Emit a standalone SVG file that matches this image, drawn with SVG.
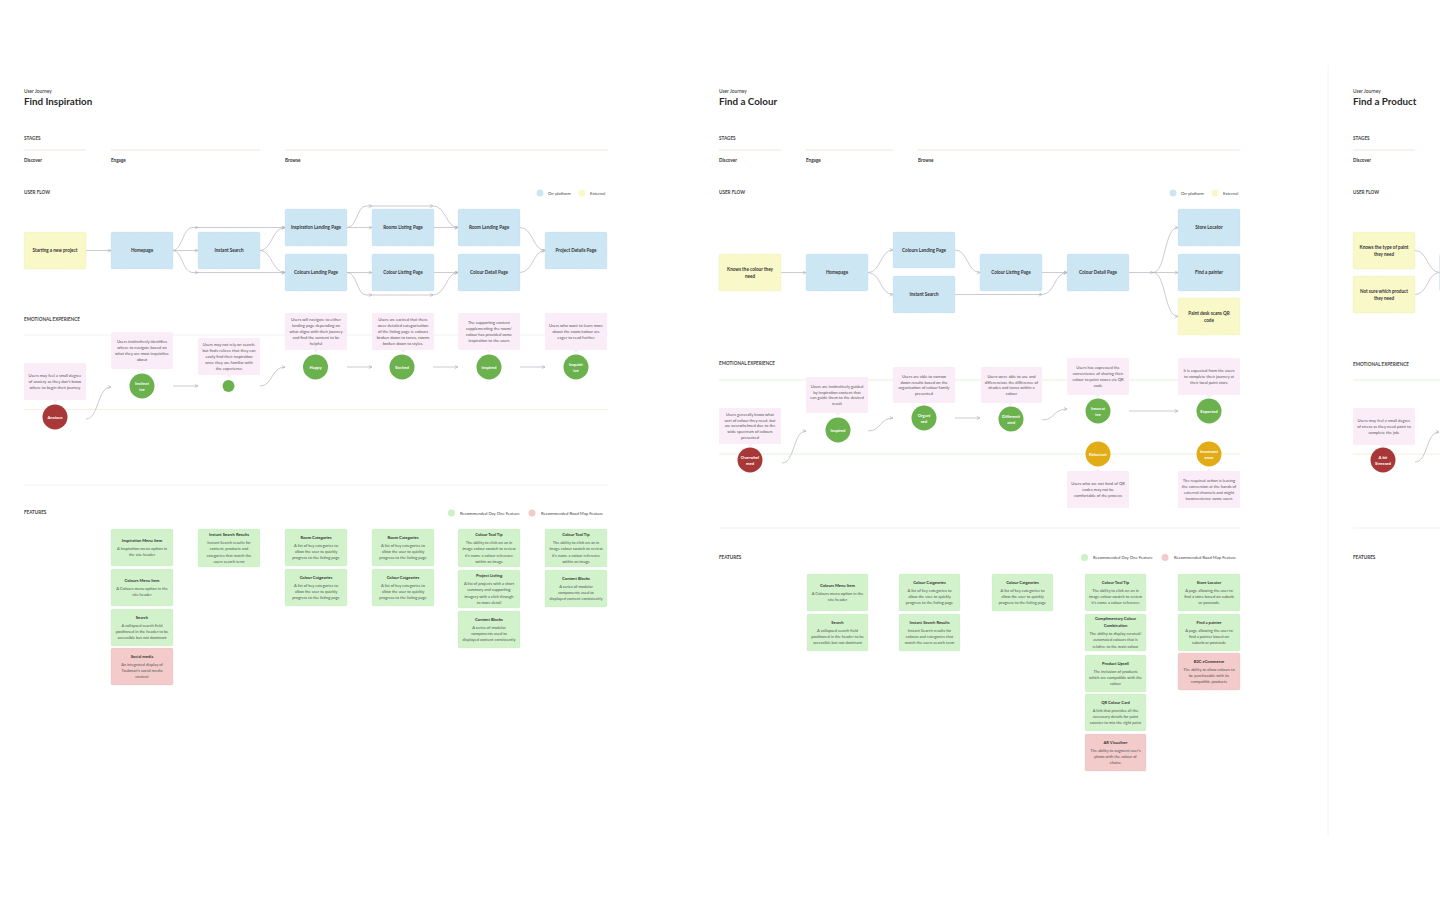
<svg xmlns="http://www.w3.org/2000/svg" width="1440" height="900" viewBox="0 0 1440 900">
<defs>
<style>
text{font-family:Lato,"Liberation Sans",sans-serif;fill:#2b2b2b}
.uj{font-size:4.8px;font-weight:600;fill:#444}
.ttl{font-size:9.8px;font-weight:700;fill:#2a2a2a}
.sec{font-size:4.6px;font-weight:700;fill:#444}
.stg{font-size:4.6px;font-weight:700;fill:#333}
.sl{stroke:#f7ece8;stroke-width:1.6}
.gl{stroke:#eeeeee;stroke-width:0.8}
.yl{stroke:#f3f1d9;stroke-width:0.9}
.grl{stroke:#e2f1d8;stroke-width:0.9}
.nb{fill:#cde6f4;stroke:#b7d6ea;stroke-width:0.4;stroke-dasharray:1 0.8}
.ny{fill:#f8f8c8;stroke:#e5e5a8;stroke-width:0.4;stroke-dasharray:1 0.8}
.nl{font-size:4.6px;font-weight:700;fill:#333;text-anchor:middle}
.co{fill:#fbedf8}
.ct{font-size:4.1px;fill:#555;text-anchor:middle}
.cg{fill:#6bb24f}
.cr{fill:#a83838}
.cy{fill:#e2ac17}
.cl{font-size:4.2px;font-weight:700;fill:#fff;text-anchor:middle}
.fg{fill:#d1f2cb;stroke:#bfe6b7;stroke-width:0.4;stroke-dasharray:1 0.8}
.fp{fill:#f3cbcb;stroke:#e6b6b6;stroke-width:0.4;stroke-dasharray:1 0.8}
.ft{font-size:4.1px;font-weight:700;fill:#333;text-anchor:middle}
.fb{font-size:4px;fill:#555;text-anchor:middle}
.lg{font-size:4.2px;fill:#444}
.cn{fill:none;stroke:#bab2be;stroke-width:0.7}
</style>
<marker id="ah" viewBox="0 0 6 6" refX="5.4" refY="3" markerWidth="4" markerHeight="4" markerUnits="userSpaceOnUse" orient="auto"><path d="M0.6,0.6 L5.4,3 L0.6,5.4" fill="none" stroke="#b0a8b5" stroke-width="0.9"/></marker>
</defs>
<rect width="1440" height="900" fill="#ffffff"/>
<line x1="1328" y1="65" x2="1328" y2="836" stroke="#f1f1f1" stroke-width="0.8"/>

<!-- ============ PANEL 1 : Find Inspiration ============ -->
<g id="panel-inspiration">
<text class="uj" x="24" y="92.5">User Journey</text>
<text class="ttl" x="24" y="105.3">Find Inspiration</text>
<text class="sec" x="24" y="139.8">STAGES</text>
<line class="sl" x1="24" y1="150" x2="86" y2="150"/>
<line class="sl" x1="111" y1="150" x2="260" y2="150"/>
<line class="sl" x1="285" y1="150" x2="608" y2="150"/>
<text class="stg" x="24" y="161.8">Discover</text>
<text class="stg" x="111" y="161.8">Engage</text>
<text class="stg" x="285" y="161.8">Browse</text>
<text class="sec" x="24" y="193.8">USER FLOW</text>
<circle cx="540" cy="193" r="3.5" fill="#cde6f4"/>
<text class="lg" x="548" y="194.5">On-platform</text>
<circle cx="582" cy="193" r="3.5" fill="#f8f8c8"/>
<text class="lg" x="590" y="194.5">External</text>
<text class="sec" x="24" y="320.8">EMOTIONAL EXPERIENCE</text>
<line class="gl" x1="24" y1="335" x2="608" y2="335"/>
<line class="yl" x1="24" y1="409.5" x2="608" y2="409.5"/>
<line class="gl" x1="24" y1="485" x2="608" y2="485"/>
<text class="sec" x="24" y="513.8">FEATURES</text>
<circle cx="451.5" cy="513" r="3.5" fill="#cdf0c5"/>
<text class="lg" x="460" y="514.5">Recommended Day One Feature</text>
<circle cx="532" cy="513" r="3.5" fill="#f3caca"/>
<text class="lg" x="541" y="514.5">Recommended Road Map Feature</text>
</g>

<g id="p1-connectors">
<path class="cn" marker-end="url(#ah)" d="M86,250.5 H111"/>
<path class="cn" marker-end="url(#ah)" d="M173,250.5 H198"/>
<path class="cn" marker-end="url(#ah)" d="M173,250.5 C182,250.5 183,227.5 192,227.5 L198,227.5"/>
<path class="cn" marker-end="url(#ah)" d="M198,227.5 H285"/>
<path class="cn" marker-end="url(#ah)" d="M173,250.5 C182,250.5 183,272.5 192,272.5 L198,272.5"/>
<path class="cn" marker-end="url(#ah)" d="M198,272.5 H285"/>
<path class="cn" marker-end="url(#ah)" d="M260,250.5 C272,250.5 272,227.5 285,227.5"/>
<path class="cn" marker-end="url(#ah)" d="M260,250.5 C272,250.5 272,272.5 285,272.5"/>
<path class="cn" marker-end="url(#ah)" d="M347,227.5 H372"/>
<path class="cn" marker-end="url(#ah)" d="M347,227.5 C357,227.5 357,206 366,206 L372,206"/>
<path class="cn" marker-end="url(#ah)" d="M372,206 H433"/>
<path class="cn" marker-end="url(#ah)" d="M433,206 C446,206 446,227.5 458,227.5"/>
<path class="cn" marker-end="url(#ah)" d="M433,227.5 H458"/>
<path class="cn" marker-end="url(#ah)" d="M520,227.5 C533,227.5 533,250.5 545,250.5"/>
<path class="cn" marker-end="url(#ah)" d="M347,272.5 H372"/>
<path class="cn" marker-end="url(#ah)" d="M347,272.5 C357,272.5 357,295 366,295 L372,295"/>
<path class="cn" marker-end="url(#ah)" d="M372,295 H433"/>
<path class="cn" marker-end="url(#ah)" d="M433,295 C446,295 446,272.5 458,272.5"/>
<path class="cn" marker-end="url(#ah)" d="M433,272.5 H458"/>
<path class="cn" marker-end="url(#ah)" d="M520,272.5 C533,272.5 533,250.5 545,250.5"/>
<path class="cn" marker-end="url(#ah)" d="M86,419 C99,419 97,387 111,387"/>
<path class="cn" marker-end="url(#ah)" d="M173,386 H198"/>
<path class="cn" marker-end="url(#ah)" d="M260,386 C273,386 271,367 285,367"/>
<path class="cn" marker-end="url(#ah)" d="M347,367 H372"/>
<path class="cn" marker-end="url(#ah)" d="M433,367 H458"/>
<path class="cn" marker-end="url(#ah)" d="M520,367 H545"/>
</g>

<g id="n-start"><rect class="ny" x="24" y="232" width="62" height="37" rx="1.5"/><text class="nl" x="55" y="252.1">Starting a new project</text></g>
<g id="n-home1"><rect class="nb" x="111" y="232" width="62" height="37" rx="1.5"/><text class="nl" x="142" y="252.1">Homepage</text></g>
<g id="n-search1"><rect class="nb" x="198" y="232" width="62" height="37" rx="1.5"/><text class="nl" x="229" y="252.1">Instant Search</text></g>
<g id="n-insp-landing"><rect class="nb" x="285" y="209" width="62" height="37" rx="1.5"/><text class="nl" x="316" y="229.1">Inspiration Landing Page</text></g>
<g id="n-col-landing1"><rect class="nb" x="285" y="254" width="62" height="37" rx="1.5"/><text class="nl" x="316" y="274.1">Colours Landing Page</text></g>
<g id="n-rooms-listing"><rect class="nb" x="372" y="209" width="62" height="37" rx="1.5"/><text class="nl" x="403" y="229.1">Rooms Listing Page</text></g>
<g id="n-col-listing1"><rect class="nb" x="372" y="254" width="62" height="37" rx="1.5"/><text class="nl" x="403" y="274.1">Colour Listing Page</text></g>
<g id="n-room-landing"><rect class="nb" x="458" y="209" width="62" height="37" rx="1.5"/><text class="nl" x="489" y="229.1">Room Landing Page</text></g>
<g id="n-col-detail1"><rect class="nb" x="458" y="254" width="62" height="37" rx="1.5"/><text class="nl" x="489" y="274.1">Colour Detail Page</text></g>
<g id="n-project"><rect class="nb" x="545" y="232" width="62" height="37" rx="1.5"/><text class="nl" x="576" y="252.1">Project Details Page</text></g>

<g id="e1-anxious"><rect class="co" x="24" y="363" width="62" height="37" rx="1.5"/><path class="co" d="M52.5,400 L55,402.8 L57.5,400Z"/>
<text class="ct" y="377"><tspan x="55">Users may feel a small degree</tspan><tspan x="55" dy="5.8">of anxiety as they don't know</tspan><tspan x="55" dy="5.8">where to begin their journey</tspan></text>
<circle class="cr" cx="55" cy="417" r="12.5"/><text class="cl" x="55" y="418.5">Anxious</text></g>
<g id="e1-instinctive"><rect class="co" x="111" y="332" width="62" height="37" rx="1.5"/><path class="co" d="M139.5,369 L142,371.8 L144.5,369Z"/>
<text class="ct" y="343.2"><tspan x="142">Users instinctively identifies</tspan><tspan x="142" dy="5.8">where to navigate based on</tspan><tspan x="142" dy="5.8">what they are most inquisitive</tspan><tspan x="142" dy="5.8">about</tspan></text>
<circle class="cg" cx="142" cy="386" r="12.5"/><text class="cl" y="384.5"><tspan x="142">Instinct</tspan><tspan x="142" dy="6">ive</tspan></text></g>
<g id="e1-relief"><rect class="co" x="198" y="338" width="62" height="37" rx="1.5"/><path class="co" d="M226.5,375 L229,377.8 L231.5,375Z"/>
<text class="ct" y="346.3"><tspan x="229">Users may not rely on search,</tspan><tspan x="229" dy="5.8">but finds relieve that they can</tspan><tspan x="229" dy="5.8">easily find their inspiration</tspan><tspan x="229" dy="5.8">once they are familiar with</tspan><tspan x="229" dy="5.8">the experience</tspan></text>
<circle class="cg" cx="228.5" cy="386" r="6"/></g>
<g id="e1-happy"><rect class="co" x="285" y="313" width="62" height="37" rx="1.5"/><path class="co" d="M313.5,350 L316,352.8 L318.5,350Z"/>
<text class="ct" y="321.3"><tspan x="316">Users will navigate to either</tspan><tspan x="316" dy="5.8">landing page depending on</tspan><tspan x="316" dy="5.8">what aligns with their journey</tspan><tspan x="316" dy="5.8">and find the content to be</tspan><tspan x="316" dy="5.8">helpful</tspan></text>
<circle class="cg" cx="315.5" cy="367" r="12.5"/><text class="cl" x="315.5" y="368.5">Happy</text></g>
<g id="e1-excited"><rect class="co" x="372" y="313" width="62" height="37" rx="1.5"/><path class="co" d="M400.5,350 L403,352.8 L405.5,350Z"/>
<text class="ct" y="321.3"><tspan x="403">Users are excited that there</tspan><tspan x="403" dy="5.8">were detailed categorisation</tspan><tspan x="403" dy="5.8">of the listing page ie colours</tspan><tspan x="403" dy="5.8">broken down to tones, rooms</tspan><tspan x="403" dy="5.8">broken down to styles.</tspan></text>
<circle class="cg" cx="402" cy="367" r="12.5"/><text class="cl" x="402" y="368.5">Excited</text></g>
<g id="e1-inspired"><rect class="co" x="458" y="313" width="62" height="37" rx="1.5"/><path class="co" d="M486.5,350 L489,352.8 L491.5,350Z"/>
<text class="ct" y="324.2"><tspan x="489">The supporting content</tspan><tspan x="489" dy="5.8">supplementing the room/</tspan><tspan x="489" dy="5.8">colour has provided some</tspan><tspan x="489" dy="5.8">inspiration to the users</tspan></text>
<circle class="cg" cx="489" cy="367" r="12.5"/><text class="cl" x="489" y="368.5">Inspired</text></g>
<g id="e1-inquisitive"><rect class="co" x="545" y="313" width="62" height="37" rx="1.5"/><path class="co" d="M573.5,350 L576,352.8 L578.5,350Z"/>
<text class="ct" y="327"><tspan x="576">Users who want to learn more</tspan><tspan x="576" dy="5.8">about the room/colour are</tspan><tspan x="576" dy="5.8">eager to read further</tspan></text>
<circle class="cg" cx="576" cy="367" r="12.5"/><text class="cl" y="365.5"><tspan x="576">Inquisit</tspan><tspan x="576" dy="6">ive</tspan></text></g>

<!-- features panel 1 -->
<g id="f1-insp-menu"><rect class="fg" x="111" y="529" width="62" height="37" rx="1.5"/><text class="ft" x="142" y="541.6">Inspiration Menu Item</text><text class="fb" y="549.9"><tspan x="142">A Inspiration menu option in</tspan><tspan x="142" dy="6.3">the site header</tspan></text></g>
<g id="f1-col-menu"><rect class="fg" x="111" y="569" width="62" height="37" rx="1.5"/><text class="ft" x="142" y="581.6">Colours Menu Item</text><text class="fb" y="589.9"><tspan x="142">A Colours menu option in the</tspan><tspan x="142" dy="6.3">site header</tspan></text></g>
<g id="f1-search"><rect class="fg" x="111" y="609" width="62" height="37" rx="1.5"/><text class="ft" x="142" y="618.5">Search</text><text class="fb" y="626.8"><tspan x="142">A collapsed search field</tspan><tspan x="142" dy="6.3">positioned in the header to be</tspan><tspan x="142" dy="6.3">accessible but not dominant</tspan></text></g>
<g id="f1-social"><rect class="fp" x="111" y="648" width="62" height="37" rx="1.5"/><text class="ft" x="142" y="657.5">Social media</text><text class="fb" y="665.8"><tspan x="142">An integrated display of</tspan><tspan x="142" dy="6.3">Taubman's social media</tspan><tspan x="142" dy="6.3">content</tspan></text></g>
<g id="f1-isr"><rect class="fg" x="198" y="529" width="62" height="38" rx="1.5"/><text class="ft" x="229" y="535.8">Instant Search Results</text><text class="fb" y="544.1"><tspan x="229">Instant Search results for</tspan><tspan x="229" dy="6.3">content, products and</tspan><tspan x="229" dy="6.3">categories that match the</tspan><tspan x="229" dy="6.3">users search term</tspan></text></g>
<g id="f1-roomcat-a"><rect class="fg" x="285" y="529" width="62" height="37" rx="1.5"/><text class="ft" x="316" y="538.5">Room Categories</text><text class="fb" y="546.8"><tspan x="316">A list of key categories to</tspan><tspan x="316" dy="6.3">allow the user to quickly</tspan><tspan x="316" dy="6.3">progress to the listing page</tspan></text></g>
<g id="f1-colcat-a"><rect class="fg" x="285" y="569" width="62" height="37" rx="1.5"/><text class="ft" x="316" y="578.5">Colour Catgeories</text><text class="fb" y="586.8"><tspan x="316">A list of key categories to</tspan><tspan x="316" dy="6.3">allow the user to quickly</tspan><tspan x="316" dy="6.3">progress to the listing page</tspan></text></g>
<g id="f1-roomcat-b"><rect class="fg" x="372" y="529" width="62" height="37" rx="1.5"/><text class="ft" x="403" y="538.5">Room Categories</text><text class="fb" y="546.8"><tspan x="403">A list of key categories to</tspan><tspan x="403" dy="6.3">allow the user to quickly</tspan><tspan x="403" dy="6.3">progress to the listing page</tspan></text></g>
<g id="f1-colcat-b"><rect class="fg" x="372" y="569" width="62" height="37" rx="1.5"/><text class="ft" x="403" y="578.5">Colour Catgeories</text><text class="fb" y="586.8"><tspan x="403">A list of key categories to</tspan><tspan x="403" dy="6.3">allow the user to quickly</tspan><tspan x="403" dy="6.3">progress to the listing page</tspan></text></g>
<g id="f1-tooltip-a"><rect class="fg" x="458" y="529" width="62" height="38" rx="1.5"/><text class="ft" x="489" y="535.8">Colour Tool Tip</text><text class="fb" y="544.1"><tspan x="489">The ability to click on an in</tspan><tspan x="489" dy="6.3">image colour swatch to review</tspan><tspan x="489" dy="6.3">it's name a colour reference</tspan><tspan x="489" dy="6.3">within an image</tspan></text></g>
<g id="f1-project-listing"><rect class="fg" x="458" y="570" width="62" height="38" rx="1.5"/><text class="ft" x="489" y="576.8">Project Listing</text><text class="fb" y="585.1"><tspan x="489">A list of projects with a short</tspan><tspan x="489" dy="6.3">summary and supporting</tspan><tspan x="489" dy="6.3">imagery with a click through</tspan><tspan x="489" dy="6.3">to more detail</tspan></text></g>
<g id="f1-content-a"><rect class="fg" x="458" y="611" width="62" height="37" rx="1.5"/><text class="ft" x="489" y="620.5">Content Blocks</text><text class="fb" y="628.8"><tspan x="489">A series of modular</tspan><tspan x="489" dy="6.3">components used to</tspan><tspan x="489" dy="6.3">displayed content consistently</tspan></text></g>
<g id="f1-tooltip-b"><rect class="fg" x="545" y="529" width="62" height="38" rx="1.5"/><text class="ft" x="576" y="535.8">Colour Tool Tip</text><text class="fb" y="544.1"><tspan x="576">The ability to click on an in</tspan><tspan x="576" dy="6.3">image colour swatch to review</tspan><tspan x="576" dy="6.3">it's name a colour reference</tspan><tspan x="576" dy="6.3">within an image</tspan></text></g>
<g id="f1-content-b"><rect class="fg" x="545" y="570" width="62" height="37" rx="1.5"/><text class="ft" x="576" y="579.5">Content Blocks</text><text class="fb" y="587.8"><tspan x="576">A series of modular</tspan><tspan x="576" dy="6.3">components used to</tspan><tspan x="576" dy="6.3">displayed content consistently</tspan></text></g>

<!-- ============ PANEL 2 : Find a Colour ============ -->
<g id="panel-colour">
<text class="uj" x="719" y="92.5">User Journey</text>
<text class="ttl" x="719" y="105.3">Find a Colour</text>
<text class="sec" x="719" y="139.8">STAGES</text>
<line class="sl" x1="719" y1="150" x2="781" y2="150"/>
<line class="sl" x1="806" y1="150" x2="893" y2="150"/>
<line class="sl" x1="918" y1="150" x2="1240" y2="150"/>
<text class="stg" x="719" y="161.8">Discover</text>
<text class="stg" x="806" y="161.8">Engage</text>
<text class="stg" x="918" y="161.8">Browse</text>
<text class="sec" x="719" y="193.8">USER FLOW</text>
<circle cx="1173" cy="193" r="3.5" fill="#cde6f4"/>
<text class="lg" x="1181" y="194.5">On-platform</text>
<circle cx="1215" cy="193" r="3.5" fill="#f8f8c8"/>
<text class="lg" x="1223" y="194.5">External</text>
<text class="sec" x="719" y="364.8">EMOTIONAL EXPERIENCE</text>
<line class="grl" x1="719" y1="380" x2="1240" y2="380"/>
<line class="grl" x1="719" y1="454" x2="1240" y2="454"/>
<line class="gl" x1="719" y1="528" x2="1240" y2="528"/>
<text class="sec" x="719" y="558.8">FEATURES</text>
<circle cx="1084.5" cy="557.5" r="3.5" fill="#cdf0c5"/>
<text class="lg" x="1093" y="559">Recommended Day One Feature</text>
<circle cx="1165" cy="557.5" r="3.5" fill="#f3caca"/>
<text class="lg" x="1174" y="559">Recommended Road Map Feature</text>
</g>

<g id="p2-connectors">
<path class="cn" marker-end="url(#ah)" d="M781,272.5 H806"/>
<path class="cn" marker-end="url(#ah)" d="M868,272.5 C881,272.5 880,250 893,250"/>
<path class="cn" marker-end="url(#ah)" d="M868,272.5 C881,272.5 880,294.5 893,294.5"/>
<path class="cn" marker-end="url(#ah)" d="M955,250 C968,250 967,272.5 980,272.5"/>
<path class="cn" marker-end="url(#ah)" d="M955,294.5 H1042"/>
<path class="cn" marker-end="url(#ah)" d="M1042,294.5 C1055,294.5 1054,272.5 1067,272.5"/>
<path class="cn" marker-end="url(#ah)" d="M1042,272.5 H1067"/>
<path class="cn" marker-end="url(#ah)" d="M1128,272.5 H1153"/>
<path class="cn" marker-end="url(#ah)" d="M1153,272.5 C1166,272.5 1164,227.5 1178,227.5"/>
<path class="cn" marker-end="url(#ah)" d="M1153,272.5 H1178"/>
<path class="cn" marker-end="url(#ah)" d="M1153,272.5 C1166,272.5 1164,316.5 1178,316.5"/>
<path class="cn" marker-end="url(#ah)" d="M782,463 C795,463 793,431 806,431"/>
<path class="cn" marker-end="url(#ah)" d="M868,431 C881,431 880,418 893,418"/>
<path class="cn" marker-end="url(#ah)" d="M955,418 H980"/>
<path class="cn" marker-end="url(#ah)" d="M1042,420 C1055,420 1053,409 1067,409"/>
<path class="cn" marker-end="url(#ah)" d="M1129,411 H1178"/>
</g>

<g id="n-knows-colour"><rect class="ny" x="719" y="254" width="62" height="37" rx="1.5"/><text class="nl" y="270.6"><tspan x="750">Knows the colour they</tspan><tspan x="750" dy="7.6">need</tspan></text></g>
<g id="n-home2"><rect class="nb" x="806" y="254" width="62" height="37" rx="1.5"/><text class="nl" x="837" y="274.1">Homepage</text></g>
<g id="n-col-landing2"><rect class="nb" x="893" y="232" width="62" height="36" rx="1.5"/><text class="nl" x="924" y="251.6">Colours Landing Page</text></g>
<g id="n-search2"><rect class="nb" x="893" y="276" width="62" height="37" rx="1.5"/><text class="nl" x="924" y="296.1">Instant Search</text></g>
<g id="n-col-listing2"><rect class="nb" x="980" y="254" width="62" height="37" rx="1.5"/><text class="nl" x="1011" y="274.1">Colour Listing Page</text></g>
<g id="n-col-detail2"><rect class="nb" x="1067" y="254" width="62" height="37" rx="1.5"/><text class="nl" x="1098" y="274.1">Colour Detail Page</text></g>
<g id="n-store"><rect class="nb" x="1178" y="209" width="62" height="37" rx="1.5"/><text class="nl" x="1209" y="229.1">Store Locator</text></g>
<g id="n-painter"><rect class="nb" x="1178" y="254" width="62" height="37" rx="1.5"/><text class="nl" x="1209" y="274.1">Find a painter</text></g>
<g id="n-qr"><rect class="ny" x="1178" y="298" width="62" height="37" rx="1.5"/><text class="nl" y="314.6"><tspan x="1209">Paint desk scans QR</tspan><tspan x="1209" dy="7.6">code</tspan></text></g>

<g id="e2-overwhelmed"><rect class="co" x="719" y="408" width="62" height="36" rx="1.5"/><path class="co" d="M747.5,444 L750,446.8 L752.5,444Z"/>
<text class="ct" y="415.8"><tspan x="750">Users generally know what</tspan><tspan x="750" dy="5.8">sort of colour they need, but</tspan><tspan x="750" dy="5.8">are overwhelmed due to the</tspan><tspan x="750" dy="5.8">wide spectrum of colours</tspan><tspan x="750" dy="5.8">presented</tspan></text>
<circle class="cr" cx="750" cy="460" r="12.5"/><text class="cl" y="458.5"><tspan x="750">Overwhel</tspan><tspan x="750" dy="6">med</tspan></text></g>
<g id="e2-inspired"><rect class="co" x="806" y="377" width="62" height="36" rx="1.5"/><path class="co" d="M835.5,413 L838,415.8 L840.5,413Z"/>
<text class="ct" y="387.7"><tspan x="837">Users are instinctively guided</tspan><tspan x="837" dy="5.8">by inspiration content that</tspan><tspan x="837" dy="5.8">can guide them to the desired</tspan><tspan x="837" dy="5.8">result</tspan></text>
<circle class="cg" cx="838" cy="430" r="12.5"/><text class="cl" x="838" y="431.5">Inspired</text></g>
<g id="e2-organised"><rect class="co" x="893" y="367" width="62" height="36" rx="1.5"/><path class="co" d="M921.5,403 L924,405.8 L926.5,403Z"/>
<text class="ct" y="377.7"><tspan x="924">Users are able to narrow</tspan><tspan x="924" dy="5.8">down results based on the</tspan><tspan x="924" dy="5.8">organisation of colour family</tspan><tspan x="924" dy="5.8">presented</tspan></text>
<circle class="cg" cx="924" cy="418" r="12.5"/><text class="cl" y="416.5"><tspan x="924">Organi</tspan><tspan x="924" dy="6">sed</tspan></text></g>
<g id="e2-differentiated"><rect class="co" x="981" y="367" width="61" height="36" rx="1.5"/><path class="co" d="M1008.5,403 L1011,405.8 L1013.5,403Z"/>
<text class="ct" y="377.7"><tspan x="1011.5">Users were able to use and</tspan><tspan x="1011.5" dy="5.8">differenciate the difference of</tspan><tspan x="1011.5" dy="5.8">shades and tones within a</tspan><tspan x="1011.5" dy="5.8">colour</tspan></text>
<circle class="cg" cx="1011" cy="419" r="12.5"/><text class="cl" y="417.5"><tspan x="1011">Differenti</tspan><tspan x="1011" dy="6">ated</tspan></text></g>
<g id="e2-innovative"><rect class="co" x="1067" y="358" width="62" height="37" rx="1.5"/><path class="co" d="M1095.5,395 L1098,397.8 L1100.5,395Z"/>
<text class="ct" y="369.2"><tspan x="1098">Users has expressed the</tspan><tspan x="1098" dy="5.8">convenience of sharing their</tspan><tspan x="1098" dy="5.8">colour to paint stores via QR</tspan><tspan x="1098" dy="5.8">code</tspan></text>
<circle class="cg" cx="1098" cy="411" r="12.5"/><text class="cl" y="409.5"><tspan x="1098">Innovat</tspan><tspan x="1098" dy="6">ive</tspan></text></g>
<g id="e2-expected"><rect class="co" x="1178" y="358" width="62" height="37" rx="1.5"/><path class="co" d="M1206.5,395 L1209,397.8 L1211.5,395Z"/>
<text class="ct" y="372"><tspan x="1209">It is expected from the users</tspan><tspan x="1209" dy="5.8">to complete their journey at</tspan><tspan x="1209" dy="5.8">their local paint store</tspan></text>
<circle class="cg" cx="1209" cy="411" r="12.5"/><text class="cl" x="1209" y="412.5">Expected</text></g>
<g id="e2-uncomfortable"><circle class="cy" cx="1098" cy="454" r="12.5"/><text class="cl" x="1098" y="455.5">Reluctant</text>
<path class="co" d="M1095.5,471 L1098,468.2 L1100.5,471Z"/><rect class="co" x="1067" y="471" width="62" height="37" rx="1.5"/>
<text class="ct" y="485"><tspan x="1098">Users who are not fond of QR</tspan><tspan x="1098" dy="5.8">codes may not be</tspan><tspan x="1098" dy="5.8">comfortable of the process</tspan></text></g>
<g id="e2-inconvenience"><circle class="cy" cx="1209" cy="454" r="12.5"/><text class="cl" y="452.5"><tspan x="1209">Inconveni</tspan><tspan x="1209" dy="6">ence</tspan></text>
<path class="co" d="M1206.5,471 L1209,468.2 L1211.5,471Z"/><rect class="co" x="1178" y="471" width="62" height="37" rx="1.5"/>
<text class="ct" y="482.2"><tspan x="1209">The required action is leaving</tspan><tspan x="1209" dy="5.8">the conversion at the hands of</tspan><tspan x="1209" dy="5.8">external channels and might</tspan><tspan x="1209" dy="5.8">inconvenience some users</tspan></text></g>

<!-- features panel 2 -->
<g id="f2-col-menu"><rect class="fg" x="807" y="574" width="61" height="37" rx="1.5"/><text class="ft" x="837.5" y="586.6">Colours Menu Item</text><text class="fb" y="594.9"><tspan x="837.5">A Colours menu option in the</tspan><tspan x="837.5" dy="6.3">site header</tspan></text></g>
<g id="f2-search"><rect class="fg" x="807" y="614" width="61" height="37" rx="1.5"/><text class="ft" x="837.5" y="623.5">Search</text><text class="fb" y="631.8"><tspan x="837.5">A collapsed search field</tspan><tspan x="837.5" dy="6.3">positioned in the header to be</tspan><tspan x="837.5" dy="6.3">accessible but not dominant</tspan></text></g>
<g id="f2-colcat-a"><rect class="fg" x="899" y="574" width="61" height="37" rx="1.5"/><text class="ft" x="929.5" y="583.5">Colour Catgeories</text><text class="fb" y="591.8"><tspan x="929.5">A list of key categories to</tspan><tspan x="929.5" dy="6.3">allow the user to quickly</tspan><tspan x="929.5" dy="6.3">progress to the listing page</tspan></text></g>
<g id="f2-isr"><rect class="fg" x="899" y="614" width="61" height="37" rx="1.5"/><text class="ft" x="929.5" y="623.5">Instant Search Results</text><text class="fb" y="631.8"><tspan x="929.5">Instant Search results for</tspan><tspan x="929.5" dy="6.3">colours and categories that</tspan><tspan x="929.5" dy="6.3">match the users search term</tspan></text></g>
<g id="f2-colcat-b"><rect class="fg" x="992" y="574" width="61" height="37" rx="1.5"/><text class="ft" x="1022.5" y="583.5">Colour Catgeories</text><text class="fb" y="591.8"><tspan x="1022.5">A list of key categories to</tspan><tspan x="1022.5" dy="6.3">allow the user to quickly</tspan><tspan x="1022.5" dy="6.3">progress to the listing page</tspan></text></g>
<g id="f2-tooltip"><rect class="fg" x="1085" y="574" width="61" height="37" rx="1.5"/><text class="ft" x="1115.5" y="583.5">Colour Tool Tip</text><text class="fb" y="591.8"><tspan x="1115.5">The ability to click on an in</tspan><tspan x="1115.5" dy="6.3">image colour swatch to review</tspan><tspan x="1115.5" dy="6.3">it's name a colour reference</tspan></text></g>
<g id="f2-complimentary"><rect class="fg" x="1085" y="614" width="61" height="37" rx="1.5"/><text class="ft" y="620.3"><tspan x="1115.5">Complimentary Colour</tspan><tspan x="1115.5" dy="6.3">Combination</tspan></text><text class="fb" y="634.9"><tspan x="1115.5">The ability to display curated/</tspan><tspan x="1115.5" dy="6.3">automated colours that is</tspan><tspan x="1115.5" dy="6.3">relative to the main colour</tspan></text></g>
<g id="f2-upsell"><rect class="fg" x="1085" y="655" width="61" height="37" rx="1.5"/><text class="ft" x="1115.5" y="664.5">Product Upsell</text><text class="fb" y="672.8"><tspan x="1115.5">The inclusion of products</tspan><tspan x="1115.5" dy="6.3">which are compatible with the</tspan><tspan x="1115.5" dy="6.3">colour</tspan></text></g>
<g id="f2-qr-card"><rect class="fg" x="1085" y="694" width="61" height="37" rx="1.5"/><text class="ft" x="1115.5" y="703.5">QR Colour Card</text><text class="fb" y="711.8"><tspan x="1115.5">A link that provides all the</tspan><tspan x="1115.5" dy="6.3">necessary details for paint</tspan><tspan x="1115.5" dy="6.3">counter to mix the right paint</tspan></text></g>
<g id="f2-ar"><rect class="fp" x="1085" y="734" width="61" height="37" rx="1.5"/><text class="ft" x="1115.5" y="743.5">AR Visualiser</text><text class="fb" y="751.8"><tspan x="1115.5">The ability to augment user's</tspan><tspan x="1115.5" dy="6.3">photo with the colour of</tspan><tspan x="1115.5" dy="6.3">choice</tspan></text></g>
<g id="f2-store"><rect class="fg" x="1178" y="574" width="62" height="37" rx="1.5"/><text class="ft" x="1209" y="583.5">Store Locator</text><text class="fb" y="591.8"><tspan x="1209">A page allowing the user to</tspan><tspan x="1209" dy="6.3">find a store based on suburb</tspan><tspan x="1209" dy="6.3">or postcode</tspan></text></g>
<g id="f2-painter"><rect class="fg" x="1178" y="614" width="62" height="37" rx="1.5"/><text class="ft" x="1209" y="623.5">Find a painter</text><text class="fb" y="631.8"><tspan x="1209">A page allowing the user to</tspan><tspan x="1209" dy="6.3">find a painter based on</tspan><tspan x="1209" dy="6.3">suburb or postcode</tspan></text></g>
<g id="f2-b2c"><rect class="fp" x="1178" y="653" width="62" height="37" rx="1.5"/><text class="ft" x="1209" y="662.5">B2C eCommerce</text><text class="fb" y="670.8"><tspan x="1209">The ability to allow colours to</tspan><tspan x="1209" dy="6.3">be purchasable with its</tspan><tspan x="1209" dy="6.3">compatible products</tspan></text></g>

<!-- ============ PANEL 3 : Find a Product ============ -->
<g id="panel-product">
<text class="uj" x="1353" y="92.5">User Journey</text>
<text class="ttl" x="1353" y="105.3">Find a Product</text>
<text class="sec" x="1353" y="139.8">STAGES</text>
<line class="sl" x1="1353" y1="150" x2="1415" y2="150"/>
<text class="stg" x="1353" y="161.8">Discover</text>
<text class="sec" x="1353" y="193.8">USER FLOW</text>
<text class="sec" x="1353" y="365.8">EMOTIONAL EXPERIENCE</text>
<line class="grl" x1="1353" y1="380" x2="1440" y2="380"/>
<line class="yl" x1="1353" y1="454" x2="1440" y2="454"/>
<line class="gl" x1="1353" y1="528" x2="1440" y2="528"/>
<text class="sec" x="1353" y="558.8">FEATURES</text>
</g>
<g id="p3-connectors">
<path class="cn" d="M1415,250.5 C1428,250.5 1427,272.5 1440,272.5"/>
<path class="cn" d="M1415,294.5 C1428,294.5 1427,272.5 1440,272.5"/>
<path class="cn" marker-end="url(#ah)" d="M1415,462 C1428,462 1426,432 1439,432"/>
</g>
<g id="n-knows-type"><rect class="ny" x="1353" y="232" width="62" height="37" rx="1.5"/><text class="nl" y="248.6"><tspan x="1384">Knows the type of paint</tspan><tspan x="1384" dy="7.6">they need</tspan></text></g>
<g id="n-not-sure"><rect class="ny" x="1353" y="276" width="62" height="37" rx="1.5"/><text class="nl" y="292.6"><tspan x="1384">Not sure which product</tspan><tspan x="1384" dy="7.6">they need</tspan></text></g>
<g id="n-p3-next"><rect class="nb" x="1439.5" y="254" width="62" height="37" rx="1.5"/></g>
<g id="e3-stressed"><rect class="co" x="1353" y="408" width="62" height="37" rx="1.5"/><path class="co" d="M1380.5,445 L1383,447.8 L1385.5,445Z"/>
<text class="ct" y="422"><tspan x="1384">Users may feel a small degree</tspan><tspan x="1384" dy="5.8">of stress as they need paint to</tspan><tspan x="1384" dy="5.8">complete the job.</tspan></text>
<circle class="cr" cx="1383" cy="460" r="12.5"/><text class="cl" y="458.5"><tspan x="1383">A bit</tspan><tspan x="1383" dy="6">Stressed</tspan></text></g>
</svg>
